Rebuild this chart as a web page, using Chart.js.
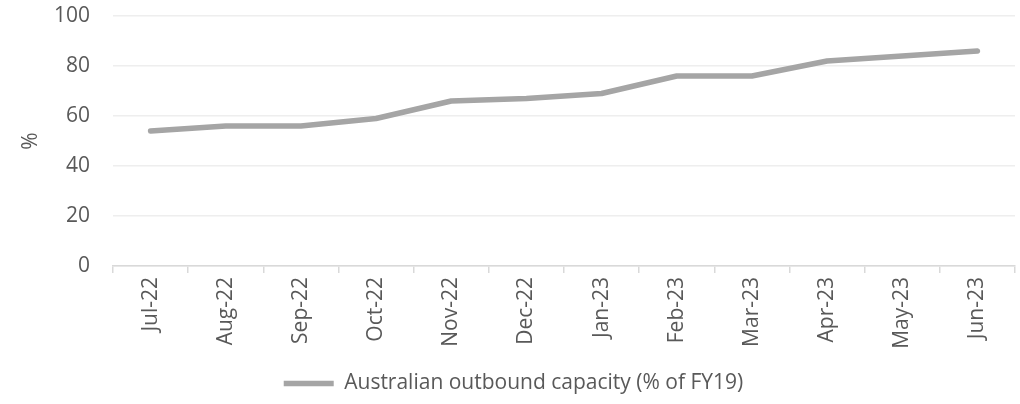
<!DOCTYPE html>
<html>
<head>
<meta charset="utf-8">
<script src="https://cdn.jsdelivr.net/npm/chart.js@4/dist/chart.umd.min.js"></script>
<style>
  html, body { margin: 0; padding: 0; background: #ffffff; }
  #wrap { width: 1020px; height: 404px; position: relative; }
</style>
</head>
<body>
<div id="wrap"><canvas id="c"></canvas></div>
<script>
// Monthly categories, FY2022-23
const months = ['Jul-22', 'Aug-22', 'Sep-22', 'Oct-22', 'Nov-22', 'Dec-22',
                'Jan-23', 'Feb-23', 'Mar-23', 'Apr-23', 'May-23', 'Jun-23'];
// Outbound seat capacity as a share of FY19 levels
const capacityPct = [54, 56, 56, 59, 66, 67, 69, 76, 76, 82, 84, 86];
const seriesName = 'Australian outbound capacity (% of FY19)';
const yTicks = [0, 20, 40, 60, 80, 100];

const FONT = "'Open Sans', 'DejaVu Sans', sans-serif";
const TEXT = '#595959';

new Chart(document.getElementById('c'), {
  type: 'line',
  data: {
    labels: months,
    datasets: [{
      label: seriesName,
      data: capacityPct,
      borderColor: '#A5A5A5',
      backgroundColor: '#A5A5A5',
      borderWidth: 5.5,
      borderCapStyle: 'round',
      borderJoinStyle: 'round',
      pointRadius: 0,
      pointHoverRadius: 0,
      tension: 0,
      fill: false
    }]
  },
  options: {
    responsive: true,
    maintainAspectRatio: false,
    animation: false,
    layout: { padding: { left: 12, right: 5, top: 16, bottom: 0 } },
    plugins: {
      tooltip: { enabled: false },
      legend: {
        position: 'bottom',
        labels: {
          usePointStyle: true,
          pointStyle: 'line',
          pointStyleWidth: 50,
          color: TEXT,
          font: { family: FONT, size: 21 },
          padding: 8
        }
      }
    },
    scales: {
      x: {
        offset: true,
        grid: {
          offset: true,
          drawOnChartArea: false,
          color: '#D9D9D9',
          lineWidth: 1.5,
          tickLength: 7
        },
        border: { color: '#D9D9D9', width: 1.5 },
        ticks: {
          color: TEXT,
          font: { family: FONT, size: 21 },
          minRotation: 90,
          maxRotation: 90,
          padding: 4,
          autoSkip: false
        },
        afterFit: (s) => { s.height = 99; s.paddingLeft = 0; s.paddingRight = 0; }
      },
      y: {
        min: 0,
        max: 100,
        afterBuildTicks: (s) => { s.ticks = yTicks.map(v => ({ value: v })); },
        grid: { color: '#EEEEEE', lineWidth: 1.5, drawTicks: false },
        border: { display: false },
        ticks: {
          color: TEXT,
          font: { family: FONT, size: 21 },
          padding: 23
        },
        title: {
          display: true,
          text: '%',
          color: TEXT,
          font: { family: FONT, size: 21 },
          padding: { top: 6, bottom: 0 }
        },
        afterFit: (s) => { s.width = 101; s.paddingTop = 0; s.paddingBottom = 0; }
      }
    }
  }
});
</script>
</body>
</html>
